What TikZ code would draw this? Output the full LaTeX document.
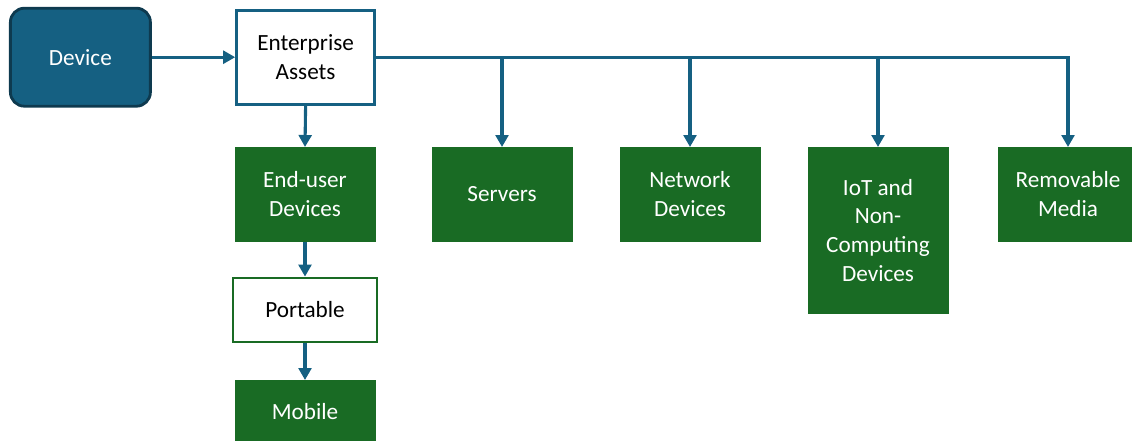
\documentclass[tikz,border=0pt]{standalone}
\usepackage{fontspec}
\setmainfont{Carlito}
\usepackage{tikz}
\usetikzlibrary{arrows.meta,positioning}
\definecolor{assetblue}{HTML}{156082}
\definecolor{assetdark}{HTML}{0E3A4F}
\definecolor{assetgreen}{HTML}{196B24}
\tikzset{
  abox/.style={draw=assetgreen,fill=assetgreen,line width=0.6pt,align=center,
               font=\fontsize{16.5}{20.5}\selectfont,text=white,inner sep=3pt,
               minimum width=3.5cm,minimum height=2.35cm},
  wbox/.style={abox,fill=white,text=black,line width=2pt},
  link/.style={-{Triangle[length=3mm,width=3.2mm]},draw=assetblue,line width=2.2pt},
}
\begin{document}
\begin{tikzpicture}
\useasboundingbox (0,0) rectangle (28.3,-11);
% root
\node[abox,draw=assetdark,fill=assetblue,rounded corners=3.5mm,line width=2pt,
      minimum width=3.5cm,minimum height=2.45cm] (dev) at (2.01,-1.43) {Device};
\node[wbox,draw=assetblue,minimum width=3.45cm,minimum height=2.35cm] (ent) at (7.64,-1.43) {Enterprise\\Assets};
% asset classes
\node[abox,anchor=north] (eud) at (7.625,-3.675) {End-user\\Devices};
\node[abox,anchor=north] (srv) at (12.55,-3.675) {Servers};
\node[abox,anchor=north] (net) at (17.25,-3.675) {Network\\Devices};
\node[abox,anchor=north,minimum height=4.15cm] (iot) at (21.95,-3.675) {IoT and\\Non-\\Computing\\Devices};
\node[abox,anchor=north] (rem) at (26.7,-3.675) {Removable\\Media};
% end-user chain
\node[wbox,minimum width=3.6cm,minimum height=1.6cm] (port) at (7.625,-7.75) {Portable};
\node[abox,anchor=north,minimum height=1.55cm] (mob) at (7.625,-9.5) {Mobile};
% connectors
\draw[link] (dev.east) -- (ent.west);
\draw[link] (ent.south) -- (eud.north);
\draw[link] (eud.south) -- (port.north);
\draw[link] (port.south) -- (mob.north);
\foreach \c in {srv,net,iot,rem}
  \draw[link] (ent.east) -| (\c.north);
\end{tikzpicture}
\end{document}
